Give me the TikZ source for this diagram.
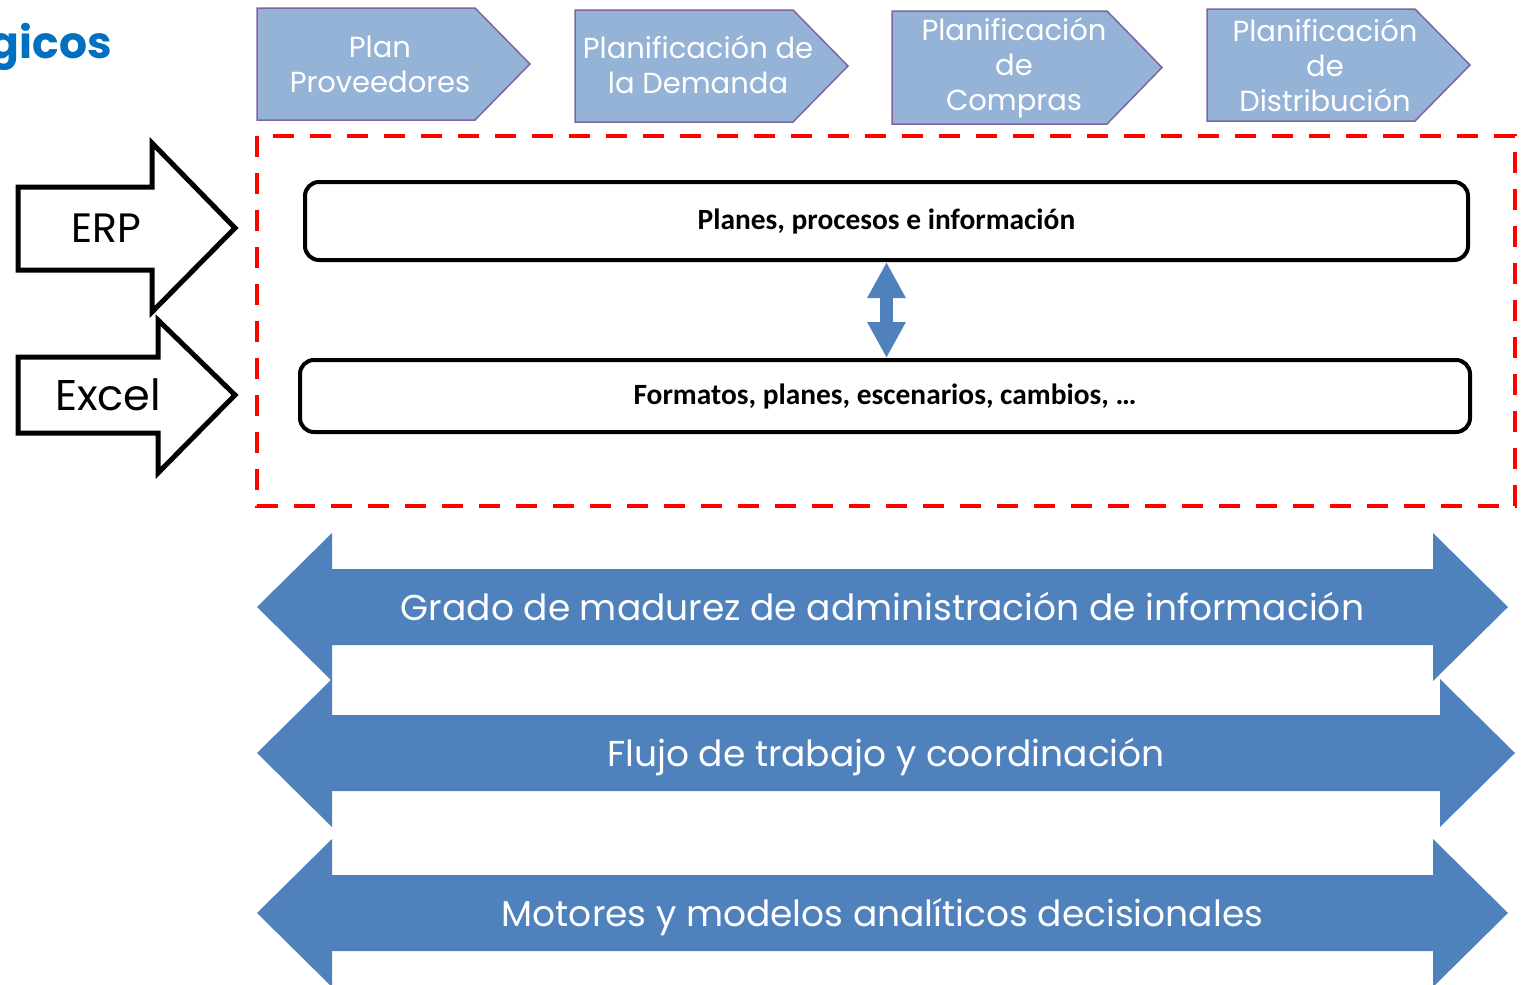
\documentclass[tikz,border=0pt]{standalone}
\usepackage{fontspec}
\setmainfont{Poppins}
\newfontfamily\calibri{Carlito}
\usetikzlibrary{arrows.meta}
\definecolor{chevfill}{HTML}{95B3D7}
\definecolor{chevline}{HTML}{8064A2}
\definecolor{bandblue}{HTML}{4F81BD}
\definecolor{titleblue}{HTML}{0070C0}

\begin{document}
\begin{tikzpicture}[x=0.5pt, y=-0.5pt,
    chevron/.style={fill=chevfill, draw=chevline, line width=0.75pt},
    chevtext/.style={text=white, align=center, font=\fontsize{14.5pt}{17.5pt}\selectfont},
    infobox/.style={draw, line width=2pt, rounded corners=7pt, fill=white, text height=0.95em, text depth=0.15em,
                    font=\calibri\bfseries\fontsize{14.7pt}{17pt}\selectfont},
    band/.style={fill=bandblue},
    bandtext/.style={text=white, anchor=base, font=\fontsize{18pt}{22pt}\selectfont},
    source/.style={draw, line width=2.5pt, fill=white}]

\useasboundingbox (0,0) rectangle (1527,985);
\clip (0,0) rectangle (1527,985);

% Title (cut at the left edge)
\node[anchor=base east, text=titleblue, inner sep=0pt, font=\bfseries\fontsize{22pt}{26pt}\selectfont] (title) at (112,58) {gicos};

% Process chevrons
\foreach \xl/\xc/\xr/\yt/\yb/\tx/\ty/\name/\txt in {
    257/475/530/8/120/380/64/proveedores/{Plan\\Proveedores},
    575/793/848/10/122/698/65/demanda/{Planificación de\\la Demanda},
    892/1107/1162/11/124/1014/68/compras/{Planificación\\de\\Compras},
    1207/1415/1470/9/121/1325/65/distribucion/{Planificación\\de\\Distribución}}
{
    \draw[chevron] (\xl,\yt) -- (\xc,\yt) -- (\xr,{(\yt+\yb)/2}) -- (\xc,\yb) -- (\xl,\yb) -- cycle;
    \node[chevtext] (\name) at (\tx,\ty) {\txt};
}

% Red dashed frame
\draw[red, line width=2pt, dash pattern=on 10.5pt off 8pt] (257,136) rectangle (1515,506);

% Boxes inside the frame
\node[infobox, minimum width=581.5pt, minimum height=39pt] (planes) at (886.5,221) {Planes, procesos e información};
\node[infobox, minimum width=585pt, minimum height=36pt] (formatos) at (885,396) {Formatos, planes, escenarios, cambios, …};

% Link between the boxes
\draw[bandblue, line width=6.5pt, {Triangle[width=18pt,length=18pt]}-{Triangle[width=18pt,length=18pt]}]
    (planes.south) -- (planes.south |- formatos.north);

% Sources
\draw[source] (18,187) -- (152,187) -- (152,143) -- (235,228) -- (152,312) -- (152,270) -- (18,270) -- cycle;
\node[anchor=base, font=\fontsize{20.5pt}{24pt}\selectfont] (erp) at (106,242) {ERP};
\draw[source] (18,357) -- (158,357) -- (158,320) -- (235,395) -- (158,473) -- (158,433) -- (18,433) -- cycle;
\node[anchor=base, font=\fontsize{21.5pt}{25pt}\selectfont] (excel) at (108,410) {Excel};

% Maturity bands
\foreach \yc/\xr/\name/\txt in {
    607/1433/madurez/{Grado de madurez de administración de información},
    753/1440/flujo/{Flujo de trabajo y coordinación},
    913/1433/motores/{Motores y modelos analíticos decisionales}}
{
    \fill[band] (257,\yc) -- (332,{\yc-74}) -- (332,{\yc-38}) -- (\xr,{\yc-38}) -- (\xr,{\yc-74})
        -- ({\xr+75},\yc) -- (\xr,{\yc+74}) -- (\xr,{\yc+38}) -- (332,{\yc+38}) -- (332,{\yc+74}) -- cycle;
    \node[bandtext] (\name) at ({(332+\xr)/2},{\yc+13}) {\txt};
}
\end{tikzpicture}
\end{document}
